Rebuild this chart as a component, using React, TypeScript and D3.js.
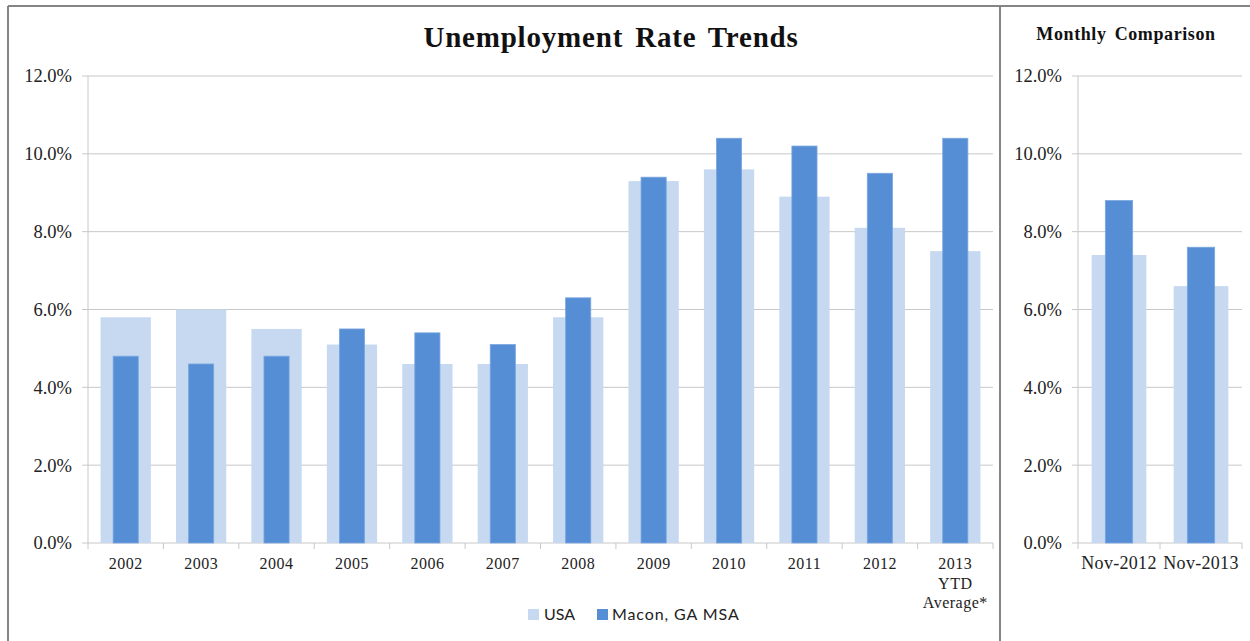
import React from "react";
import * as d3 from "d3";

const years = ["2002","2003","2004","2005","2006","2007","2008","2009","2010","2011","2012","2013"];
const yearLabelLines: string[][] = years.map((y) => (y === "2013" ? ["2013", "YTD", "Average*"] : [y]));
const usaAnnual = [5.8, 6.0, 5.5, 5.1, 4.6, 4.6, 5.8, 9.3, 9.6, 8.9, 8.1, 7.5];
const maconAnnual = [4.8, 4.6, 4.8, 5.5, 5.4, 5.1, 6.3, 9.4, 10.4, 10.2, 9.5, 10.4];
const months = ["Nov-2012", "Nov-2013"];
const usaMonthly = [7.4, 6.6];
const maconMonthly = [8.8, 7.6];
const yTicks = [0, 2, 4, 6, 8, 10, 12];
const seriesNames = ["USA", "Macon, GA MSA"];

const USA_COLOR = "#c6d9f1";
const MACON_COLOR = "#558ed5";
const GRID = "#c8c8c8";
const SERIF = "'Liberation Serif', 'Times New Roman', serif";
const SANS = "Lato, 'Open Sans', sans-serif";

function Panel({ cats, labels, usa, macon, x0, x1, y0, y1, labelX, catFont, catSpacing }: any) {
  const x = d3.scaleBand<string>().domain(cats).range([x0, x1]).padding(0);
  const y = d3.scaleLinear().domain([0, 12]).range([y1, y0]);
  const bw = x.bandwidth();
  return (
    <g>
      {yTicks.map((t) => (
        <g key={t}>
          <line x1={x0} x2={x1} y1={y(t)} y2={y(t)} stroke={GRID} strokeWidth={1} />
          <line x1={x0 - 6} x2={x0} y1={y(t)} y2={y(t)} stroke={GRID} strokeWidth={1} />
          <text x={labelX} y={y(t)} dy="0.35em" textAnchor="end" fontFamily={SERIF} fontSize={18.5} fill="#222">
            {d3.format(".1f")(t) + "%"}
          </text>
        </g>
      ))}
      <line x1={x0} x2={x0} y1={y0} y2={y1} stroke={GRID} strokeWidth={1} />
      {cats.map((c: string, i: number) => {
        const bx = x(c)!;
        return (
          <g key={c}>
            <rect x={bx + bw / 6} width={(bw * 2) / 3} y={y(usa[i])} height={y(0) - y(usa[i])} fill={USA_COLOR} />
            <rect x={bx + bw / 3} width={bw / 3} y={y(macon[i])} height={y(0) - y(macon[i])} fill={MACON_COLOR} stroke="#7aa6df" strokeWidth={0.8} />
          </g>
        );
      })}
      {cats.map((c: string) => (
        <line key={"t" + c} x1={x(c)!} x2={x(c)!} y1={y1} y2={y1 + 6} stroke={GRID} strokeWidth={1} />
      ))}
      <line x1={x1} x2={x1} y1={y1} y2={y1 + 6} stroke={GRID} strokeWidth={1} />
      {cats.map((c: string, i: number) => (
        <text key={"l" + c} x={x(c)! + bw / 2} y={y1 + 26} textAnchor="middle" fontFamily={SERIF} fontSize={catFont} letterSpacing={catSpacing} fill="#222">
          {labels[i].map((ln: string, k: number) => (
            <tspan key={k} x={x(c)! + bw / 2} dy={k === 0 ? 0 : 19.5}>{ln}</tspan>
          ))}
        </text>
      ))}
    </g>
  );
}

export default function App() {
  return (
    <svg width={1250} height={641} style={{ position: "absolute", left: 0, top: 0, background: "#fff" }}>
      <rect x={0} y={0} width={1250} height={641} fill="#fff" />
      <line x1={8} x2={8} y1={6} y2={641} stroke="#858585" strokeWidth={2} />
      <line x1={8} x2={1250} y1={6} y2={6} stroke="#858585" strokeWidth={2} />
      <line x1={1000} x2={1000} y1={6} y2={641} stroke="#858585" strokeWidth={2} />
      <text x={611} y={47} textAnchor="middle" fontFamily={SERIF} fontWeight="bold" fontSize={29} letterSpacing={0.8} wordSpacing={4} fill="#111">
        Unemployment Rate Trends
      </text>
      <text x={1126} y={40} textAnchor="middle" fontFamily={SERIF} fontWeight="bold" fontSize={18} letterSpacing={0.6} wordSpacing={3} fill="#111">
        Monthly Comparison
      </text>
      <Panel cats={years} labels={yearLabelLines} usa={usaAnnual} macon={maconAnnual} x0={88} x1={993} y0={76} y1={543} labelX={72} catFont={16} catSpacing={0.5} />
      <Panel cats={months} labels={months.map((m) => [m])} usa={usaMonthly} macon={maconMonthly} x0={1078} x1={1242} y0={76} y1={543} labelX={1062} catFont={18} catSpacing={0.3} />
      <g>
        <rect x={528} y={609} width={11} height={11} fill={USA_COLOR} />
        <text x={544} y={620} fontFamily={SANS} fontSize={16} fill="#222">{seriesNames[0]}</text>
        <rect x={597} y={609} width={11} height={11} fill={MACON_COLOR} />
        <text x={612} y={620} fontFamily={SANS} fontSize={16} letterSpacing={0.9} fill="#222">{seriesNames[1]}</text>
      </g>
    </svg>
  );
}
